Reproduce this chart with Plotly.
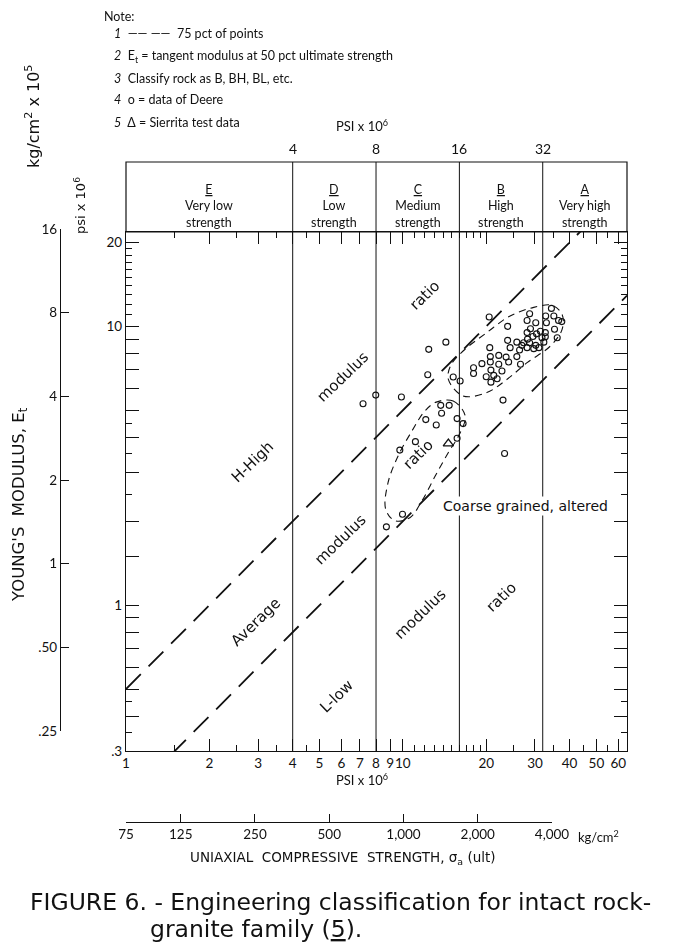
import plotly.graph_objects as go
import math

# ---- data ----
# strength classes (psi x 10^3 on the bottom axis, boundaries of zones)
zone_bounds = [1, 4, 8, 16, 32, 64.5]
zone_letters = ["E", "D", "C", "B", "A"]
zone_names = ["Very low<br>strength", "Low<br>strength", "Medium<br>strength",
              "High<br>strength", "Very high<br>strength"]

# modulus ratio lines (E / sigma)
ratio_lines = [500, 200]

# data of Deere (sigma, E)
deere_sigma = [20.5, 23.9, 28.7, 28.1, 30.2, 32.8, 33.0, 34.4, 35.1, 36.5,
               37.5, 35.3, 36.1, 32.7, 31.4, 30.4, 28.9, 28.1, 29.5, 28.2,
               27.3, 28.7, 30.2, 31.0, 32.3, 32.7, 31.8, 28.1, 29.7, 26.9,
               25.8, 26.4, 23.9, 24.4, 25.8, 26.6, 20.6, 20.7, 22.2, 23.6,
               24.1, 20.7, 22.2, 19.3, 18.0, 18.0, 20.8, 22.8, 20.0, 21.3,
               21.9, 20.8, 15.2, 16.1, 23.0, 23.3, 12.4, 14.3, 12.3, 7.18,
               7.98, 9.88, 13.7, 14.7, 13.8, 12.1, 13.2, 15.7, 16.5, 11.1,
               9.75, 15.7, 9.97, 8.72]
deere_E = [10.8, 10.0, 11.1, 10.5, 10.3, 10.9, 10.3, 11.6, 10.9, 10.5,
           10.4, 9.76, 9.1, 9.5, 9.6, 9.4, 9.8, 9.5, 9.2, 9.0,
           8.74, 8.74, 8.55, 8.39, 8.78, 9.18, 9.1, 8.39, 8.32, 8.55,
           8.78, 8.23, 8.91, 8.39, 7.79, 7.31, 8.39, 7.79, 7.87, 7.76,
           7.45, 7.45, 7.31, 7.35, 7.11, 6.78, 6.97, 6.92, 6.60, 6.67,
           6.49, 6.31, 6.58, 6.37, 5.44, 3.50, 8.27, 8.78, 6.71, 5.28,
           5.67, 5.58, 5.21, 5.21, 4.88, 4.63, 4.43, 4.67, 4.48, 3.86,
           3.60, 3.97, 2.12, 1.91]

# Sierrita test data
sierrita_sigma = [14.6]
sierrita_E = [3.8]

# 75 pct of points contours
contour_b_sigma = [14.6, 16.5, 20.1, 23.8, 28.1, 34.1, 37.6, 37.6, 34.6, 29.7,
                   24.4, 20.1, 16.5, 14.9, 14.6]
contour_b_E = [6.46, 5.63, 5.79, 6.46, 7.41, 8.50, 9.76, 11.04, 11.9, 11.7,
               10.9, 9.5, 8.16, 7.25, 6.46]
contour_c_sigma = [13.2, 15.2, 16.8, 16.0, 14.6, 13.1, 11.7, 10.6, 9.35, 8.67,
                   8.84, 9.61, 10.7, 12.0, 13.2]
contour_c_E = [5.35, 5.40, 4.77, 4.10, 3.53, 2.91, 2.36, 2.06, 2.01, 2.21,
               2.75, 3.43, 4.16, 4.97, 5.35]

# axis ticks
x_major = [1, 2, 3, 4, 5, 6, 7, 8, 9, 10, 20, 30, 40, 50, 60]
x_minor = [1.5, 2.5, 3.5, 4.5, 11, 12, 13, 14, 15, 16, 17, 18, 19, 25, 35, 45, 55]
y_major = [0.3, 0.4, 0.5, 0.6, 0.7, 0.8, 0.9, 1, 1.5, 2, 3, 4, 5, 6, 7, 8, 9, 10, 20]
y_labels = {0.3: ".3", 1: "1", 10: "10", 20: "20"}
y_minor = [0.35, 0.45, 2.5, 3.5, 4.5, 11, 12, 13, 14, 15, 16, 17, 18, 19]
kg_ticks = [75, 125, 250, 500, 1000, 2000, 4000]
kg_labels = ["75", "125", "250", "500", "1,000", "2,000", "4,000"]
e_kg_ticks = [0.25, 0.5, 1, 2, 4, 8, 16]
e_kg_labels = [".25", ".50", "1", "2", "4", "8", "16"]

W, H = 686, 943
FONT = "Lato"
WIDE = "DejaVu Sans"
INK = "#111111"
OFF = 8  # page body margin


def px(x):
    return (x - OFF) / W


def py(y):
    return 1 - (y - OFF) / H


def note(x, y, text, size=12.5, family=FONT, **kw):
    d = dict(x=px(x), y=py(y), xref="paper", yref="paper", text=text, showarrow=False,
             xanchor="center", yanchor="middle", font=dict(size=size, family=family, color=INK))
    d.update(kw)
    return d


fig = go.Figure()

# modulus ratio lines
for r in ratio_lines:
    xs = [zone_bounds[0], zone_bounds[-1]]
    fig.add_trace(go.Scatter(x=xs, y=[r * v / 1000 for v in xs], mode="lines",
                             line=dict(color=INK, width=1.8, dash="21px,11px"),
                             hoverinfo="skip", showlegend=False))

for cs, ce in [(contour_b_sigma, contour_b_E), (contour_c_sigma, contour_c_E)]:
    fig.add_trace(go.Scatter(x=cs, y=ce, mode="lines",
                             line=dict(color=INK, width=1.1, dash="7px,5px", shape="spline"),
                             hoverinfo="skip", showlegend=False))

fig.add_trace(go.Scatter(x=deere_sigma, y=deere_E, mode="markers",
                         marker=dict(symbol="circle-open", size=6, color=INK, line=dict(width=1.1)),
                         showlegend=False))
fig.add_trace(go.Scatter(x=sierrita_sigma, y=sierrita_E, mode="markers",
                         marker=dict(symbol="triangle-up-open", size=9, color=INK, line=dict(width=1.3)),
                         showlegend=False))

# dummy trace to show the outer axes
fig.add_trace(go.Scatter(x=[kg_ticks[0], kg_ticks[-1]], y=[e_kg_ticks[0], e_kg_ticks[-1]],
                         xaxis="x3", yaxis="y2", mode="markers", opacity=0,
                         hoverinfo="skip", showlegend=False))

plot_x0, plot_x1 = 126, 627
plot_y0, plot_y1 = 232, 751
head_top = 162

# header box and zone lines
shapes = [dict(type="rect", xref="paper", yref="paper", x0=px(plot_x0), x1=px(plot_x1),
               y0=py(plot_y0), y1=py(head_top), line=dict(color=INK, width=1.2))]
for b in zone_bounds[1:-1]:
    shapes.append(dict(type="line", xref="x", yref="paper", x0=b, x1=b,
                       y0=py(plot_y1), y1=py(head_top), line=dict(color=INK, width=1)))

ann = []
for i, letter in enumerate(zone_letters):
    xc = (math.log10(zone_bounds[i]) + math.log10(zone_bounds[i + 1])) / 2
    ann.append(dict(x=xc, xref="x", y=py(206), yref="paper", yanchor="middle",
                    text="<u>" + letter + "</u><br>" + zone_names[i],
                    showarrow=False, font=dict(size=12.5, family=FONT, color=INK)))
for b in zone_bounds[1:-1]:
    ann.append(dict(x=math.log10(b), xref="x", y=py(148), yref="paper", yanchor="middle",
                    text=str(b), showarrow=False, font=dict(size=14, family=FONT, color=INK)))

# rotated labels on the chart
diag_labels = [("H-High", 2.86, 3.26), ("modulus", 6.07, 6.56), ("ratio", 12.0, 13.0),
               ("Average", 2.94, 0.87), ("modulus", 5.92, 1.72), ("ratio", 11.4, 3.48),
               ("L-low", 5.78, 0.472), ("modulus", 11.55, 0.93), ("ratio", 22.7, 1.07)]
for t, xs, ys in diag_labels:
    ann.append(dict(x=math.log10(xs), y=math.log10(ys), xref="x", yref="y", text=t,
                    textangle=-44, showarrow=False,
                    font=dict(size=15, family=WIDE, color=INK)))
ann.append(dict(x=math.log10(27.8), y=math.log10(2.26), xref="x", yref="y",
                text="Coarse grained, altered", showarrow=False, bgcolor="white",
                font=dict(size=14, family=WIDE, color=INK)))

# notes
notes = ["<i>1</i>  —— ——  75 pct of points",
         "<i>2</i>  E<sub>t</sub> = tangent modulus at 50 pct ultimate strength",
         "<i>3</i>  Classify rock as B, BH, BL, etc.",
         "<i>4</i>  o = data of Deere",
         "<i>5</i>  Δ = Sierrita test data"]
ann.append(note(102, 16, "Note:", xanchor="left"))
for i, t in enumerate(notes):
    ann.append(note(112, 34 + 22 * i, t, xanchor="left"))

ann += [
    note(362, 125, "PSI x 10<sup>6</sup>", size=13),
    note(362, 779, "PSI x 10<sup>6</sup>", size=13),
    note(576, 836, "kg/cm<sup>2</sup>", size=13, xanchor="left"),
    note(343, 858, "UNIAXIAL  COMPRESSIVE  STRENGTH, σ<sub>a</sub> (ult)", size=13.5, family=WIDE),
    note(80, 206, "psi x 10<sup>6</sup>", size=13, family=WIDE, textangle=-90),
    note(33, 117, "kg/cm<sup>2</sup> x 10<sup>5</sup>", size=16, family=WIDE, textangle=-90),
    note(20, 505, "YOUNG'S  MODULUS, E<sub>t</sub>", size=16.5, family=WIDE, textangle=-90),
    note(28, 902, "FIGURE 6. - Engineering classification for intact rock-", size=23.5,
         family=WIDE, xanchor="left"),
    note(148, 929, "granite family (<u>5</u>).", size=23.5, family=WIDE, xanchor="left"),
]

axis_common = dict(showline=True, linecolor=INK, linewidth=1.2, showgrid=False, zeroline=False,
                   automargin=False, tickangle=0, tickcolor=INK,
                   tickfont=dict(size=13.5, family=FONT, color=INK))

fig.update_layout(
    template="none",
    width=W, height=H, margin=dict(l=0, r=0, t=0, b=0, pad=0, autoexpand=False),
    paper_bgcolor="white", plot_bgcolor="rgba(0,0,0,0)",
    font=dict(family=FONT, color=INK),
    shapes=shapes, annotations=ann,
    xaxis=dict(type="log", range=[math.log10(zone_bounds[0]), math.log10(zone_bounds[-1])],
               domain=[px(plot_x0), px(plot_x1)], anchor="y", mirror="ticks",
               tickmode="array", tickvals=x_major, ticktext=[str(v) for v in x_major],
               ticks="inside", ticklen=12, tickwidth=1.1,
               minor=dict(tickvals=x_minor, ticks="inside", ticklen=6, tickcolor=INK),
               **axis_common),
    yaxis=dict(type="log", range=[math.log10(0.3), math.log10(21.8)],
               domain=[py(plot_y1), py(plot_y0)], anchor="x", mirror="ticks",
               tickmode="array", tickvals=y_major,
               ticktext=[y_labels.get(v, "") for v in y_major],
               ticks="inside", ticklen=13, tickwidth=1.1,
               minor=dict(tickvals=y_minor, ticks="inside", ticklen=6, tickcolor=INK),
               **axis_common),
    xaxis3=dict(type="log", range=[math.log10(kg_ticks[0]), math.log10(kg_ticks[-1])],
                domain=[px(126), px(552)], anchor="free", position=py(822),
                tickmode="array", tickvals=kg_ticks, ticktext=kg_labels,
                ticks="inside", ticklen=8, **axis_common),
    yaxis2=dict(type="log", range=[math.log10(e_kg_ticks[0]), math.log10(e_kg_ticks[-1])],
                domain=[py(731), py(229)], anchor="free", position=px(60),
                tickmode="array", tickvals=e_kg_ticks, ticktext=e_kg_labels,
                ticks="inside", ticklen=8, **axis_common),
)

fig.write_html("out.html")
